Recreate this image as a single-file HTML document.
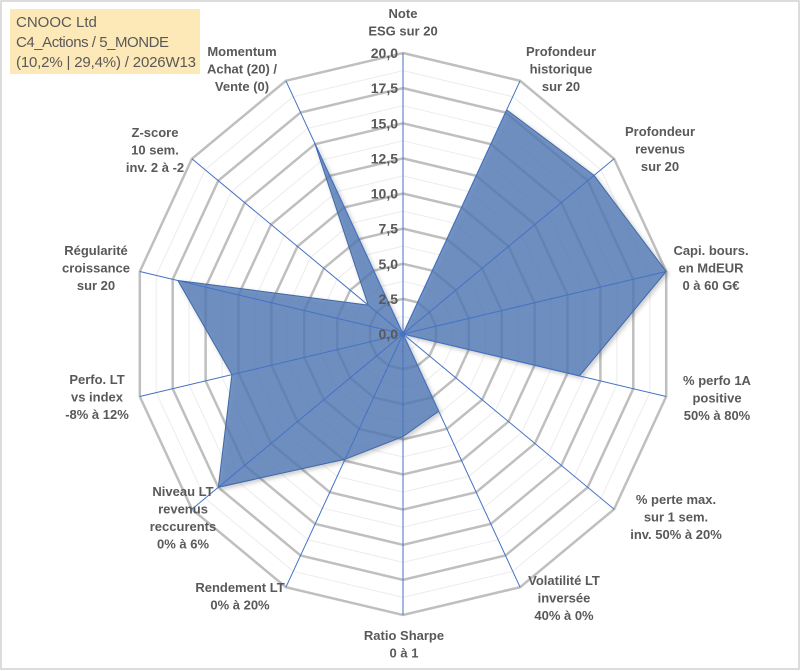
<!DOCTYPE html>
<html><head><meta charset="utf-8">
<style>
html,body{margin:0;padding:0;background:#fff;}
#wrap{position:relative;width:801px;height:671px;overflow:hidden;}
svg text{font-family:"Liberation Sans",Arial,sans-serif;}
</style></head>
<body>
<div id="wrap">
<svg id="chart" width="801" height="671" viewBox="0 0 801 671">
  <rect x="1" y="1" width="798" height="668" fill="#fff" stroke="#d0d0d0" stroke-width="1.5"/>
  <defs>
    <filter id="sh" x="-10%" y="-10%" width="120%" height="120%">
      <feDropShadow dx="2" dy="2" stdDeviation="2" flood-color="#000" flood-opacity="0.25"/>
    </filter>
  </defs>
  <g id="grid"></g>
  <g id="series"></g>
  <g id="spokes"></g>
  <g id="ticks"></g>
  <g id="labels"></g>
  <rect x="10" y="9" width="190" height="65" fill="#fde9b8"/>
  <text x="16" y="27" font-size="15" fill="#595959">CNOOC Ltd</text>
  <text x="16" y="47" font-size="15" fill="#595959" textLength="153">C4_Actions / 5_MONDE</text>
  <text x="16" y="67" font-size="15" fill="#595959" textLength="180">(10,2% | 29,4%) / 2026W13</text>
</svg>
</div>
<script>
const categories = [
  ["Note","ESG sur 20"],
  ["Profondeur","historique","sur 20"],
  ["Profondeur","revenus","sur 20"],
  ["Capi. bours.","en MdEUR","0 à 60 G€"],
  ["% perfo 1A","positive","50% à 80%"],
  ["% perte max.","sur 1 sem.","inv. 50% à 20%"],
  ["Volatilité LT","inversée","40% à 0%"],
  ["Ratio Sharpe","0 à 1"],
  ["Rendement LT","0% à 20%"],
  ["Niveau LT","revenus","reccurents","0% à 6%"],
  ["Perfo. LT","vs index","-8% à 12%"],
  ["Régularité","croissance","sur 20"],
  ["Z-score","10 sem.","inv. 2 à -2"],
  ["Momentum","Achat (20) /","Vente (0)"]
];
const values = [0, 17.7, 18.1, 20, 13.4, 0, 6.1, 7.3, 9.9, 17.5, 13, 17.1, 3.3, 15.1];
const tickValues = [0, 2.5, 5, 7.5, 10, 12.5, 15, 17.5, 20];
const tickLabels = ["0,0","2,5","5,0","7,5","10,0","12,5","15,0","17,5","20,0"];
const maxVal = 20;

const NS = "http://www.w3.org/2000/svg";
const cx = 403, cy = 334, Rx = 270, Ry = 281;
const N = categories.length;
function ang(i){ return i * 2 * Math.PI / N; }
function px(i, v){ return cx + Math.sin(ang(i)) * Rx * v / maxVal; }
function py(i, v){ return cy - Math.cos(ang(i)) * Ry * v / maxVal; }
function mk(tag, attrs, parent){
  const e = document.createElementNS(NS, tag);
  for (const k in attrs) e.setAttribute(k, attrs[k]);
  parent.appendChild(e); return e;
}
const grid = document.getElementById('grid');
for (let v = 1.25; v < maxVal; v += 2.5) {
  const pts = categories.map((c, i) => px(i, v).toFixed(1) + "," + py(i, v).toFixed(1)).join(" ");
  const p = mk('polygon', {points: pts, fill: 'none', stroke: '#ececec', 'stroke-width': 1}, grid);
  
  
}
tickValues.forEach((v) => {
  if (v === 0) return;
  const pts = categories.map((c, i) => px(i, v).toFixed(1) + "," + py(i, v).toFixed(1)).join(" ");
  const p = mk('polygon', {points: pts, fill: 'none', stroke: '#bfbfbf', 'stroke-width': 2.5}, grid);
  
  
});
const ser = document.getElementById('series');
const spts = values.map((v, i) => px(i, v).toFixed(1) + "," + py(i, v).toFixed(1)).join(" ");
const poly = mk('polygon', {points: spts, fill: '#4f78b5', 'fill-opacity': 0.78, stroke: '#3f67a8', 'stroke-width': 1, filter: 'url(#sh)'}, ser);


const sp = document.getElementById('spokes');
categories.forEach((c, i) => {
  const l = mk('line', {x1: cx, y1: cy, x2: px(i, maxVal).toFixed(1), y2: py(i, maxVal).toFixed(1), stroke: '#4472c4', 'stroke-width': 1}, sp);
  
  
});
const tk = document.getElementById('ticks');
tickValues.forEach((v, k) => {
  const t = mk('text', {x: cx - 5, y: py(0, v) + 5, 'text-anchor': 'end', 'font-size': 14, 'font-weight': 'bold', fill: '#595959'}, tk);
  t.textContent = tickLabels[k];
  
  
});
const lb = document.getElementById('labels');
const labelPos = [
  [403,18],[561,56],[660,136],[711,255],[717,385],[676,504],[564,585],
  [404,640],[240,592],[183,496],[97,384],[96,255],[155,137],[242,56]
];
categories.forEach((lines, i) => {
  const [x, y] = labelPos[i];
  const t = mk('text', {x: x, y: y, 'text-anchor': 'middle', 'font-size': 13, 'font-weight': 'bold', fill: '#595959'}, lb);
  
  
  lines.forEach((s, j) => {
    const ts = mk('tspan', {x: x, dy: j === 0 ? 0 : 17.5}, t);
    ts.textContent = s;
  });
});
</script>
</body></html>
